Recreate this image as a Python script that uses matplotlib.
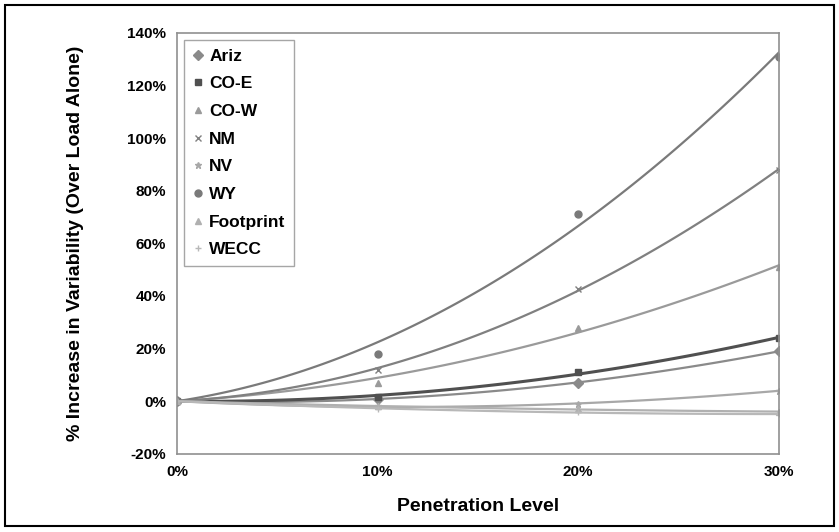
import numpy as np
import matplotlib.pyplot as plt
from matplotlib.patches import Rectangle

plt.rcParams['font.family'] = ['Liberation Sans', 'DejaVu Sans']
plt.rcParams['font.weight'] = 'bold'

penetration = [0.0, 0.10, 0.20, 0.30]
names = ['Ariz', 'CO-E', 'CO-W', 'NM', 'NV', 'WY', 'Footprint', 'WECC']
ariz = [0, 1, 7, 19]
co_e = [0, 1.5, 11, 24]
co_w = [0, 7, 28, 51]
nm = [0, 12, 42.6, 88]
nv = [0, -2, -1, 4]
wy = [0, 18, 71, 131]
footprint = [0, -2, -3, -4]
wecc = [0, -3, -4, -5]
series = [ariz, co_e, co_w, nm, nv, wy, footprint, wecc]

markers = ['D', 's', '^', 'x', '*', 'o', '^', '+']
colors = ['#8a8a8a', '#505050', '#9a9a9a', '#808080',
          '#a8a8a8', '#7a7a7a', '#b0b0b0', '#b8b8b8']

fig = plt.figure(figsize=(8.39, 5.32), dpi=100)
ax = fig.add_axes([0.211, 0.147, 0.717, 0.791])

x = np.array(penetration)
xs = np.linspace(0, 0.30, 100)
for name, vals, m, c in zip(names, series, markers, colors):
    v = np.array(vals) / 100.0
    # 2nd order trendline forced through the origin
    A = np.column_stack([x, x ** 2])
    (a, b), *_ = np.linalg.lstsq(A, v, rcond=None)
    lw = 2.2 if name == 'CO-E' else 1.6
    ax.plot(xs, a * xs + b * xs ** 2, color=c, lw=lw)
    ax.plot(penetration, v, linestyle='none', marker=m, markersize=5,
            color=c, markeredgecolor=c, label=name)

ax.set_xlim(0, 0.30)
ax.set_ylim(-0.20, 1.40)
ax.set_xticks([0, 0.1, 0.2, 0.3])
ax.set_xticklabels(['0%', '10%', '20%', '30%'])
yt = np.arange(-0.2, 1.41, 0.2)
ax.set_yticks(yt)
ax.set_yticklabels([f'{int(round(t * 100))}%' for t in yt])
ax.tick_params(labelsize=11, length=0, pad=8)
for lab in ax.get_xticklabels() + ax.get_yticklabels():
    lab.set_fontweight('bold')
for s in ax.spines.values():
    s.set_color('#909090')
    s.set_linewidth(1.2)

ax.set_xlabel('Penetration Level', fontsize=14, fontweight='bold', labelpad=14)
ax.set_ylabel('% Increase in Variability (Over Load Alone)', fontsize=14,
              fontweight='bold', labelpad=31)

leg = ax.legend(loc='upper left', frameon=True, fancybox=False, fontsize=12.5,
                handlelength=0.6, handletextpad=0.35, labelspacing=0.72,
                borderpad=0.5, bbox_to_anchor=(-0.003, 1.004))
leg.get_frame().set_edgecolor('#909090')
leg.get_frame().set_linewidth(1.0)
for t in leg.get_texts():
    t.set_fontweight('bold')

fig.patches.append(Rectangle((0.006, 0.011), 0.988, 0.98, transform=fig.transFigure,
                             fill=False, edgecolor='black', linewidth=1.5))

fig.savefig('out.png', dpi=100)
